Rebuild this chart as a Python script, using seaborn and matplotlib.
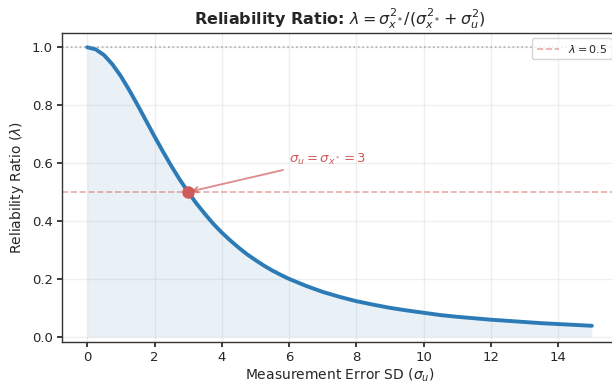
import matplotlib
matplotlib.use("Agg")
import matplotlib.pyplot as plt
import seaborn as sns
import pandas as pd

sigma_u = [0.0, 0.25, 0.5, 0.75, 1.0, 1.25, 1.5, 1.75, 2.0, 2.25, 2.5, 2.75, 3.0, 3.25, 3.5,
           3.75, 4.0, 4.25, 4.5, 4.75, 5.0, 5.25, 5.5, 5.75, 6.0, 6.5, 7.0, 7.5,
           8.0, 8.5, 9.0, 9.5, 10.0, 10.5, 11.0, 11.5, 12.0, 12.5, 13.0, 13.5, 14.0, 14.5, 15.0]
reliability = [1.000, 0.993, 0.973, 0.941, 0.900, 0.852, 0.800, 0.746, 0.692, 0.640, 0.590,
               0.543, 0.500, 0.460, 0.424, 0.390, 0.360, 0.333, 0.308, 0.285, 0.265, 0.246,
               0.229, 0.214, 0.200, 0.176, 0.155, 0.138, 0.123, 0.111, 0.100, 0.091, 0.083,
               0.075, 0.069, 0.064, 0.059, 0.055, 0.051, 0.047, 0.044, 0.041, 0.038]
half_point = (3.0, 0.5)
x_ticks = [0, 2, 4, 6, 8, 10, 12, 14]
y_ticks = [0.0, 0.2, 0.4, 0.6, 0.8, 1.0]

df = pd.DataFrame({"sigma_u": sigma_u, "lam": reliability})

sns.set_theme(style="ticks")
plt.rcParams["font.family"] = ["DejaVu Sans"]

blue = "#2c7bb6"
red = "#d05a5a"

fig = plt.figure(figsize=(6.12, 3.86), dpi=100)
ax = fig.add_axes([0.1013, 0.114, 0.907, 0.801])

ax.fill_between(df["sigma_u"], 0, df["lam"], color=blue, alpha=0.1, linewidth=0)
sns.lineplot(data=df, x="sigma_u", y="lam", ax=ax, color=blue, linewidth=2.8)

ax.axhline(1.0, color="gray", linestyle=":", linewidth=1.2, alpha=0.6)
ax.axhline(0.5, color=red, linestyle="--", linewidth=1.2, alpha=0.5, label=r"$\lambda = 0.5$")
ax.plot([half_point[0]], [half_point[1]], "o", color=red, markersize=8, zorder=5)
ax.annotate(r"$\sigma_u = \sigma_{x^*} = 3$", xy=half_point, xytext=(6.0, 0.6),
            fontsize=9.5, color=red,
            arrowprops=dict(arrowstyle="->", color=red, alpha=0.7, lw=1.3))

ax.set_xlim(-0.75, 15.75)
ax.set_ylim(-0.018, 1.05)
ax.set_xticks(x_ticks)
ax.set_yticks(y_ticks)
ax.grid(True, alpha=0.3)
ax.tick_params(labelsize=9.5, length=3.5, pad=3)
for sp in ax.spines.values():
    sp.set_color("#333333")
    sp.set_linewidth(1.0)

ax.set_xlabel(r"Measurement Error SD ($\sigma_u$)", fontsize=10, labelpad=2)
ax.set_ylabel(r"Reliability Ratio ($\lambda$)", fontsize=10)
ax.set_title(r"Reliability Ratio: $\lambda = \sigma^2_{x^*}/(\sigma^2_{x^*} + \sigma^2_u)$",
             fontsize=11.5, fontweight="bold")
ax.legend(loc="upper right", fontsize=8, frameon=True)

fig.savefig("out.png", dpi=100)
